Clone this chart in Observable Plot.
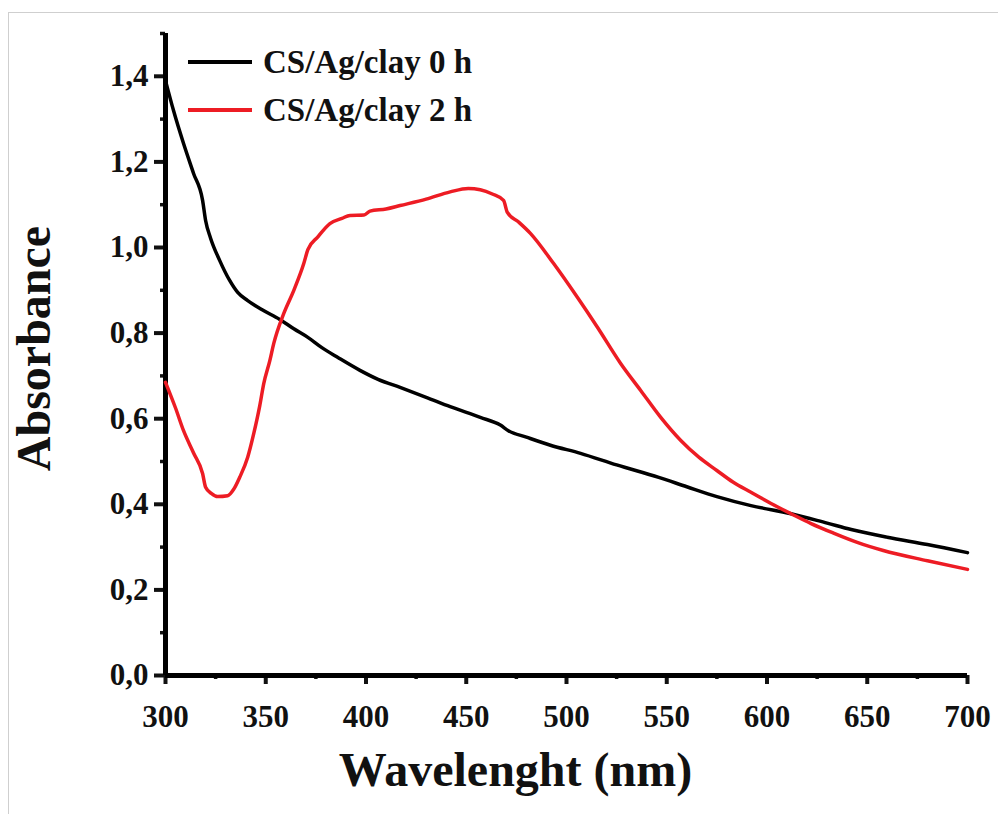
<!DOCTYPE html>
<html>
<head>
<meta charset="utf-8">
<script src="https://cdn.jsdelivr.net/npm/d3@7"></script>
<script src="https://cdn.jsdelivr.net/npm/@observablehq/plot@0.6"></script>
<style>
  html, body { margin: 0; padding: 0; background: #fff; overflow: hidden; }
  #wrap { position: relative; width: 998px; height: 814px; font-family: "Liberation Serif", "Times New Roman", serif; font-weight: bold; }
  #border { position: absolute; left: 8px; top: 12px; width: 1100px; height: 1100px; border: 1px solid #cfcfcf; box-sizing: border-box; }
  .leg { position: absolute; left: 188px; height: 40px; display: flex; align-items: center; font-size: 33px; color: #111; white-space: nowrap; }
  .leg .sw { width: 64px; height: 4px; margin-right: 11px; }
</style>
</head>
<body>
<div id="wrap"><div id="border"></div></div>
<script>
// Series: CS/Ag/clay 0 h
const wl0 = [300,304,309,314,318.5,320,322.4,327,332,336,341,348,357,364,371,378,386,397,406,417,430,442,457,467,471,480,492,507,525,546,560,575,592,612,630,642,660,680,700];
const abs0 = [1.39,1.32,1.243,1.173,1.11,1.063,1.023,0.97,0.923,0.895,0.876,0.855,0.832,0.81,0.79,0.766,0.743,0.713,0.692,0.673,0.65,0.628,0.603,0.585,0.572,0.557,0.538,0.519,0.492,0.463,0.441,0.418,0.397,0.378,0.356,0.341,0.323,0.306,0.287];
// Series: CS/Ag/clay 2 h
const wl2 = [300,305,309,314,318.5,320,323,326,331,334,337,341,344,347,349,352,354,359,364,369,371,376,382,388,392,399,402,410,417,430,442,451,457,463,468.6,470.5,476,482,493.5,505.5,515.5,527,537,547,557,566,575,583,592,602,612,622,633,645,658,680,700];
const abs2 = [0.685,0.625,0.572,0.52,0.472,0.44,0.425,0.418,0.42,0.435,0.463,0.51,0.565,0.63,0.682,0.735,0.776,0.846,0.90,0.963,0.995,1.025,1.056,1.068,1.075,1.076,1.085,1.09,1.098,1.113,1.13,1.138,1.135,1.125,1.11,1.082,1.06,1.033,0.963,0.883,0.813,0.729,0.666,0.603,0.549,0.51,0.479,0.452,0.428,0.402,0.378,0.355,0.333,0.311,0.292,0.268,0.248];

const seriesNames = ["CS/Ag/clay 0 h", "CS/Ag/clay 2 h"];
const seriesColors = ["#000000", "#ed1c24"];

const xMajor = [300,350,400,450,500,550,600,650,700];
const xMinor = [325,375,425,475,525,575,625,675];
const yMajor = [0,0.2,0.4,0.6,0.8,1.0,1.2,1.4];
const yMinor = [0.1,0.3,0.5,0.7,0.9,1.1,1.3,1.5];

const xTitle = "Wavelenght (nm)";
const yTitle = "Absorbance";

const rows0 = wl0.map((w, i) => ({w, a: abs0[i]}));
const rows2 = wl2.map((w, i) => ({w, a: abs2[i]}));
const comma = d => d.toFixed(1).replace(".", ",");

const font = {fontFamily: "Liberation Serif", fontWeight: "bold"};

const chart = Plot.plot({
  width: 998,
  height: 814,
  marginLeft: 165,
  marginRight: 31,
  marginTop: 33,
  marginBottom: 139,
  style: {fontFamily: "Liberation Serif, serif", fontWeight: "bold", fontSize: "31px", color: "#111", background: "transparent"},
  x: {domain: [300, 700]},
  y: {domain: [0, 1.5]},
  marks: [
    Plot.axisX(xMinor, {tickSize: 4, strokeWidth: 3.5, tickFormat: () => "", label: null}),
    Plot.axisX(xMajor, {tickSize: 9, strokeWidth: 4, tickPadding: 20, tickFormat: d => String(d), fontSize: 31, ...font, label: null}),
    Plot.axisY(yMinor, {tickSize: 5, strokeWidth: 3.5, tickFormat: () => "", label: null}),
    Plot.axisY(yMajor, {tickSize: 11, strokeWidth: 4, tickPadding: 6, tickFormat: comma, fontSize: 31, ...font, label: null}),
    Plot.ruleY([0], {strokeWidth: 5, stroke: "#000"}),
    Plot.ruleX([300], {strokeWidth: 5, stroke: "#000"}),
    Plot.line(rows0, {x: "w", y: "a", stroke: seriesColors[0], strokeWidth: 3.5, curve: "monotone-x"}),
    Plot.line(rows2, {x: "w", y: "a", stroke: seriesColors[1], strokeWidth: 3.5, curve: "monotone-x"}),
    Plot.text([xTitle], {frameAnchor: "bottom", textAnchor: "middle", dx: -51, dy: 95, lineAnchor: "middle", fontSize: 48, ...font}),
    Plot.text([yTitle], {frameAnchor: "left", textAnchor: "middle", rotate: -90, dx: -131, dy: -6, lineAnchor: "middle", fontSize: 48, ...font})
  ]
});
chart.style.position = "absolute";
chart.style.left = "0px";
chart.style.top = "0px";
const wrap = document.getElementById("wrap");
wrap.appendChild(chart);

seriesNames.forEach((name, i) => {
  const d = document.createElement("div");
  d.className = "leg";
  d.style.top = (42 + i * 48) + "px";
  const sw = document.createElement("span");
  sw.className = "sw";
  sw.style.background = seriesColors[i];
  const t = document.createElement("span");
  t.textContent = name;
  d.appendChild(sw);
  d.appendChild(t);
  wrap.appendChild(d);
});
</script>
</body>
</html>
